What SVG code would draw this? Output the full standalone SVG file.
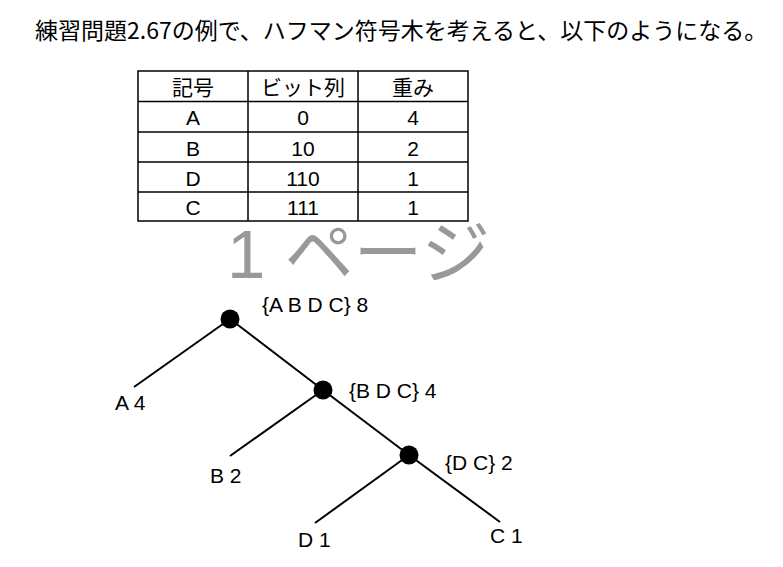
<svg xmlns="http://www.w3.org/2000/svg" width="783" height="567" viewBox="0 0 783 567">
<style>
.title{font-family:"Noto Sans CJK JP",sans-serif;font-size:23px;fill:#000}
.tb{font-family:"Liberation Sans","Noto Sans CJK JP",sans-serif;font-size:21px;fill:#000;text-anchor:middle}
.grid{stroke:#000;stroke-width:1.5;fill:none}
.wm{font-family:"Liberation Sans","Noto Sans CJK JP",sans-serif;font-size:69px;fill:#999}
.lbl{font-family:"Liberation Sans",sans-serif;font-size:21px;fill:#000}
.edge{stroke:#000;stroke-width:2;fill:none}
.dot{fill:#000}
</style>
<rect width="783" height="567" fill="#fff"/>
<text class="title" x="35" y="39">練習問題2.67の例で、ハフマン符号木を考えると、以下のようになる。</text>
<g id="table">
<rect class="grid" x="138" y="71" width="330" height="150"/>
<line class="grid" x1="248" y1="71" x2="248" y2="221"/>
<line class="grid" x1="358" y1="71" x2="358" y2="221"/>
<line class="grid" x1="138" y1="101.5" x2="468" y2="101.5"/>
<line class="grid" x1="138" y1="132" x2="468" y2="132"/>
<line class="grid" x1="138" y1="162" x2="468" y2="162"/>
<line class="grid" x1="138" y1="192" x2="468" y2="192"/>
<text class="tb" x="193" y="95">記号</text>
<text class="tb" x="303" y="95">ビット列</text>
<text class="tb" x="413" y="95">重み</text>
<text class="tb" x="193" y="125">A</text>
<text class="tb" x="303" y="125">0</text>
<text class="tb" x="413" y="125">4</text>
<text class="tb" x="193" y="156">B</text>
<text class="tb" x="303" y="156">10</text>
<text class="tb" x="413" y="156">2</text>
<text class="tb" x="193" y="186">D</text>
<text class="tb" x="303" y="186">110</text>
<text class="tb" x="413" y="186">1</text>
<text class="tb" x="193" y="215">C</text>
<text class="tb" x="303" y="215">111</text>
<text class="tb" x="413" y="215">1</text>
</g>
<text class="wm" x="227" y="278">1 ページ</text>
<g id="connectors">
<line class="edge" x1="230" y1="319" x2="134" y2="387"/>
<line class="edge" x1="230" y1="319" x2="323" y2="390"/>
<line class="edge" x1="323" y1="390" x2="230" y2="456"/>
<line class="edge" x1="323" y1="390" x2="409" y2="455"/>
<line class="edge" x1="409" y1="455" x2="315" y2="523"/>
<line class="edge" x1="409" y1="455" x2="500" y2="522"/>
</g>
<g id="node-root"><circle class="dot" cx="230" cy="319" r="9.5"/><text class="lbl" x="262" y="312">{A B D C} 8</text></g>
<g id="node-bdc"><circle class="dot" cx="323" cy="390" r="9.5"/><text class="lbl" x="349" y="398">{B D C} 4</text></g>
<g id="node-dc"><circle class="dot" cx="409" cy="455" r="9.5"/><text class="lbl" x="445" y="470">{D C} 2</text></g>
<g id="leaf-a"><text class="lbl" x="115" y="410">A 4</text></g>
<g id="leaf-b"><text class="lbl" x="210" y="483">B 2</text></g>
<g id="leaf-d"><text class="lbl" x="298" y="547">D 1</text></g>
<g id="leaf-c"><text class="lbl" x="490" y="543">C 1</text></g>
</svg>
